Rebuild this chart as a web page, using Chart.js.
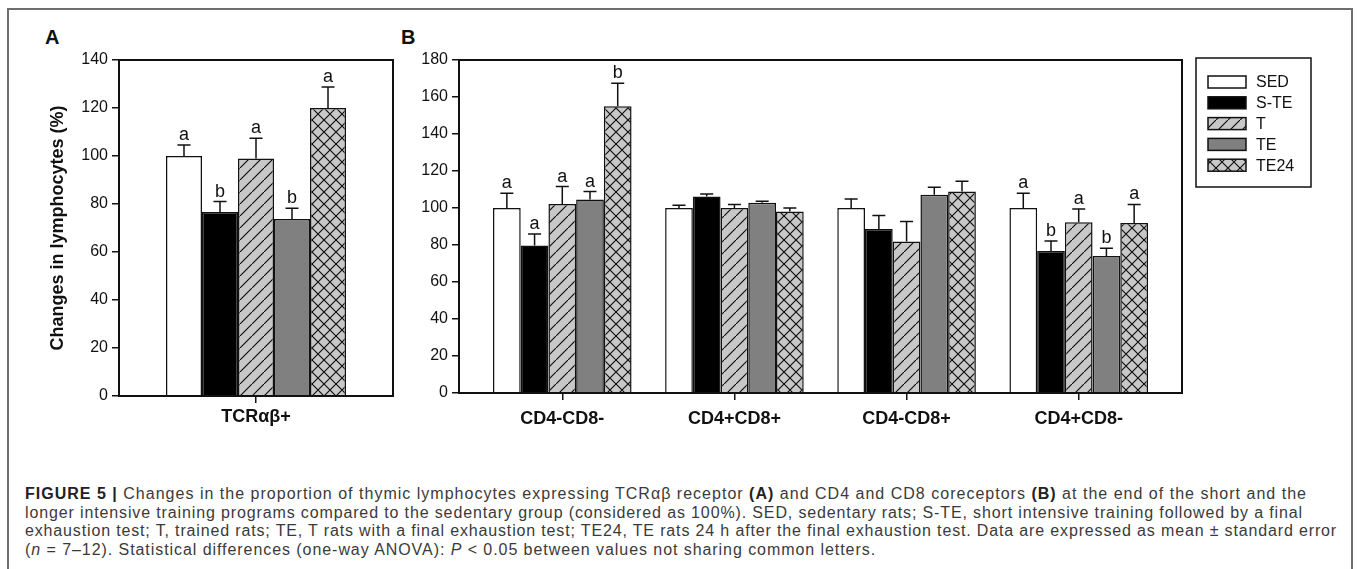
<!DOCTYPE html>
<html>
<head>
<meta charset="utf-8">
<script src="https://cdn.jsdelivr.net/npm/chart.js@4.4.1/dist/chart.umd.min.js"></script>
<style>
  body { margin: 0; width: 1357px; height: 569px; background: #fff; overflow: hidden; position: relative;
         font-family: "Liberation Sans", Arial, sans-serif; }
  #frame { position: absolute; left: 7px; top: 8px; width: 1342px; height: 600px; border: 2px solid #6e6e6e; border-bottom: none; }
  #wrapA { position: absolute; left: 0; top: 0; width: 400px; height: 440px; }
  #wrapB { position: absolute; left: 400px; top: 0; width: 957px; height: 440px; }
  .panel { position: absolute; font-weight: bold; font-size: 20px; line-height: 20px; color: #111; }
  #caption { position: absolute; left: 25px; top: 485px; font-size: 16px; line-height: 18.6px; color: #3a3a3a; }
  #caption div { white-space: nowrap; }
  #caption b { color: #222; }
</style>
</head>
<body>
<div id="frame"></div>
<div class="panel" style="left:45px; top:27px;">A</div>
<div class="panel" style="left:401px; top:27px;">B</div>
<div id="wrapA"><canvas id="chartA"></canvas></div>
<div id="wrapB"><canvas id="chartB"></canvas></div>
<div id="caption">
  <div data-w="1282"><b>FIGURE 5 |</b> Changes in the proportion of thymic lymphocytes expressing TCRαβ receptor <b>(A)</b> and CD4 and CD8 coreceptors <b>(B)</b> at the end of the short and the</div>
  <div data-w="1278">longer intensive training programs compared to the sedentary group (considered as 100%). SED, sedentary rats; S-TE, short intensive training followed by a final</div>
  <div data-w="1312">exhaustion test; T, trained rats; TE, T rats with a final exhaustion test; TE24, TE rats 24 h after the final exhaustion test. Data are expressed as mean ± standard error</div>
  <div data-w="851">(<i>n</i> = 7–12). Statistical differences (one-way ANOVA): <i>P</i> &lt; 0.05 between values not sharing common letters.</div>
</div>
<script>
// groups and series
const seriesNames = ['SED', 'S-TE', 'T', 'TE', 'TE24'];
const groupsA = ['TCRαβ+'];
const groupsB = ['CD4-CD8-', 'CD4+CD8+', 'CD4-CD8+', 'CD4+CD8-'];

// panel A: one value per series (mean, sem, letter)
const meanA = [100, 76.7, 99, 73.7, 120];
const semA = [4.6, 4.3, 8.4, 4.5, 8.7];
const letterA = ['a', 'b', 'a', 'b', 'a'];

// panel B: one array per series, one value per group
const sedB = [100, 100, 100, 100];
const steB = [79.7, 106.2, 88.7, 76.8];
const tB = [102.2, 100, 81.9, 92.3];
const teB = [104.6, 102.9, 107.1, 74];
const te24B = [155, 98.1, 108.9, 91.9];

const sedErrB = [8, 1.5, 4.8, 8];
const steErrB = [6.3, 1.4, 7.2, 5.4];
const tErrB = [9.4, 1.9, 10.8, 7.2];
const teErrB = [4.3, 0.8, 4.1, 4.3];
const te24ErrB = [12.4, 1.9, 5.6, 10];

const sedLetB = ['a', '', '', 'a'];
const steLetB = ['a', '', '', 'b'];
const tLetB = ['a', '', '', 'a'];
const teLetB = ['a', '', '', 'b'];
const te24LetB = ['b', '', '', 'a'];

const yTicksA = [0, 140, 20];
const yTicksB = [0, 180, 20];

Chart.defaults.font.family = '"Liberation Sans", Arial, sans-serif';
Chart.defaults.color = '#111';

const INK = '#111';

// stretch each caption line to the width it has in the figure
document.querySelectorAll('#caption div').forEach(line => {
    line.style.display = 'inline-block';
    const natural = line.getBoundingClientRect().width;
    line.style.display = 'block';
    const n = line.textContent.length;
    line.style.letterSpacing = ((+line.dataset.w - natural) / n) + 'px';
});

function hatch(cross) {
    const s = 12;
    const tile = document.createElement('canvas');
    tile.width = s;
    tile.height = s;
    const g = tile.getContext('2d');
    g.fillStyle = '#c8c8c8';
    g.fillRect(0, 0, s, s);
    g.strokeStyle = INK;
    g.lineWidth = 1.2;
    g.beginPath();
    g.moveTo(-1, s + 1);
    g.lineTo(s + 1, -1);
    if (cross) {
        g.moveTo(-1, -1);
        g.lineTo(s + 1, s + 1);
    }
    g.stroke();
    return g.createPattern(tile, 'repeat');
}

const fills = ['#ffffff', '#000000', hatch(false), '#808080', hatch(true)];

// frame round the plot area
const plotFrame = {
    id: 'plotFrame',
    afterDraw(chart) {
        const { ctx, chartArea: a } = chart;
        ctx.save();
        ctx.strokeStyle = INK;
        ctx.lineWidth = 2;
        ctx.strokeRect(a.left, a.top, a.right - a.left, a.bottom - a.top);
        ctx.restore();
    }
};

// upper error whiskers and letters
const errorBars = {
    id: 'errorBars',
    afterDatasetsDraw(chart) {
        const ctx = chart.ctx;
        const y = chart.scales.y;
        ctx.save();
        ctx.strokeStyle = INK;
        ctx.lineWidth = 1.5;
        ctx.fillStyle = INK;
        ctx.font = '18px "Liberation Sans", Arial, sans-serif';
        ctx.textAlign = 'center';
        ctx.textBaseline = 'alphabetic';
        chart.data.datasets.forEach((ds, i) => {
            const meta = chart.getDatasetMeta(i);
            meta.data.forEach((bar, j) => {
                const v = meta.controller.getParsed(j).y;
                const top = y.getPixelForValue(v + ds.err[j]);
                ctx.beginPath();
                ctx.moveTo(bar.x, bar.y);
                ctx.lineTo(bar.x, top);
                ctx.moveTo(bar.x - 6.5, top);
                ctx.lineTo(bar.x + 6.5, top);
                ctx.stroke();
                if (ds.letters[j]) ctx.fillText(ds.letters[j], bar.x, top - 5);
            });
        });
        ctx.restore();
    }
};

// boxed legend to the right of panel B
const boxLegend = {
    id: 'boxLegend',
    afterDraw(chart) {
        const { ctx, chartArea: a } = chart;
        const x0 = a.right + 14, y0 = a.top - 2;
        ctx.save();
        ctx.strokeStyle = INK;
        ctx.lineWidth = 1.5;
        ctx.strokeRect(x0, y0, 115, 129);
        ctx.font = '16px "Liberation Sans", Arial, sans-serif';
        ctx.textBaseline = 'middle';
        ctx.textAlign = 'left';
        chart.data.datasets.forEach((ds, i) => {
            const cy = y0 + 24 + i * 20.8;
            ctx.fillStyle = ds.backgroundColor;
            ctx.fillRect(x0 + 12, cy - 6, 38, 12);
            ctx.lineWidth = 1.5;
            ctx.strokeRect(x0 + 12, cy - 6, 38, 12);
            ctx.fillStyle = INK;
            ctx.fillText(ds.label, x0 + 60, cy + 1);
        });
        ctx.restore();
    }
};

function yAxis(range, width, withTitle) {
    return {
        min: range[0],
        max: range[1],
        ticks: { stepSize: range[2], font: { size: 16 }, color: INK, padding: 4 },
        grid: { drawOnChartArea: false, tickLength: 7, color: INK, lineWidth: 1.5 },
        border: { color: INK, width: 2 },
        title: {
            display: withTitle,
            text: 'Changes in lymphocytes (%)',
            font: { size: 18, weight: 'bold' },
            color: INK,
            padding: { top: 47, bottom: 0 }
        },
        afterFit: s => { s.width = width; }
    };
}

const common = {
    responsive: true,
    maintainAspectRatio: false,
    animation: false,
    events: [],
    plugins: { legend: { display: false }, tooltip: { enabled: false } }
};

new Chart(document.getElementById('chartA'), {
    type: 'bar',
    data: {
        labels: groupsA,
        datasets: seriesNames.map((name, i) => ({
            label: name,
            data: [meanA[i]],
            err: [semA[i]],
            letters: [letterA[i]],
            backgroundColor: fills[i],
            borderColor: INK,
            borderWidth: 1.5,
            categoryPercentage: 0.657,
            barPercentage: 1
        }))
    },
    options: {
        ...common,
        layout: { padding: { top: 60, right: 7, left: 0, bottom: 0 } },
        scales: {
            x: {
                offset: true,
                grid: { offset: false, drawOnChartArea: false, tickLength: 7, color: INK, lineWidth: 1.5 },
                border: { color: INK, width: 2 },
                ticks: { font: { size: 18, weight: 'bold' }, color: INK, padding: 3 },
                afterFit: s => { s.height = 44; }
            },
            y: yAxis(yTicksA, 119, true)
        }
    },
    plugins: [errorBars, plotFrame]
});

const meansB = [sedB, steB, tB, teB, te24B];
const errsB = [sedErrB, steErrB, tErrB, teErrB, te24ErrB];
const lettersB = [sedLetB, steLetB, tLetB, teLetB, te24LetB];

new Chart(document.getElementById('chartB'), {
    type: 'bar',
    data: {
        datasets: seriesNames.map((name, i) => ({
            label: name,
            data: meansB[i].map((v, k) => ({ x: k, y: v })),
            err: errsB[i],
            letters: lettersB[i],
            backgroundColor: fills[i],
            borderColor: INK,
            borderWidth: 1.5,
            categoryPercentage: 0.805,
            barPercentage: 1
        }))
    },
    options: {
        ...common,
        layout: { padding: { top: 60, right: 175, left: 0, bottom: 0 } },
        scales: {
            x: {
                type: 'linear',
                min: -0.6,
                max: 3.6,
                offset: false,
                grid: { offset: false, drawOnChartArea: false, tickLength: 7, color: INK, lineWidth: 1.5 },
                border: { color: INK, width: 2 },
                ticks: {
                    stepSize: 1,
                    includeBounds: false,
                    autoSkip: false,
                    maxRotation: 0,
                    callback: v => groupsB[v],
                    font: { size: 18, weight: 'bold' },
                    color: INK,
                    padding: 8
                },
                afterFit: s => { s.height = 47; }
            },
            y: yAxis(yTicksB, 59, false)
        }
    },
    plugins: [errorBars, plotFrame, boxLegend]
});
</script>
</body>
</html>
